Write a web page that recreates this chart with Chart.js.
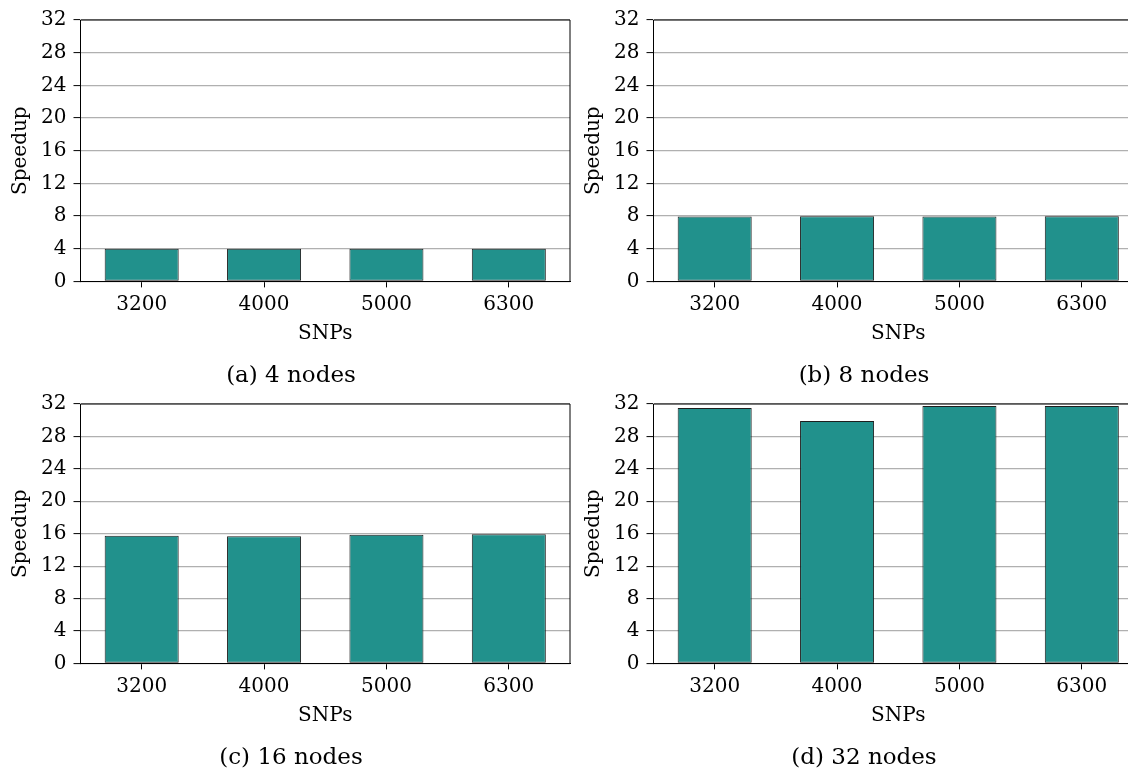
<!DOCTYPE html>
<html>
<head>
<meta charset="utf-8">
<title>Speedup vs SNPs</title>
<script src="https://cdn.jsdelivr.net/npm/chart.js@4.4.1/dist/chart.umd.min.js"></script>
<style>
    html, body { margin: 0; padding: 0; background: #fff; overflow: hidden; }
    #figure { position: relative; width: 1128px; height: 769px; overflow: hidden; background: #fff; }
    #figure canvas { position: absolute; }
</style>
</head>
<body>
<div id="figure">
    <canvas id="panel-a"></canvas>
    <canvas id="panel-b"></canvas>
    <canvas id="panel-c"></canvas>
    <canvas id="panel-d"></canvas>
</div>
<script>
// Veriler
const snpLabels = ['3200', '4000', '5000', '6300'];
const speedup4 = [4.0, 4.0, 4.0, 4.0];
const speedup8 = [7.96, 7.97, 7.96, 7.98];
const speedup16 = [15.75, 15.7, 15.88, 15.92];
const speedup32 = [31.5, 29.9, 31.75, 31.75];
const yTicks = [0, 4, 8, 12, 16, 20, 24, 28, 32];
const captions = ['(a) 4 nodes', '(b) 8 nodes', '(c) 16 nodes', '(d) 32 nodes'];

const FONT = "'DejaVu Serif', serif";
const BAR_COLOR = '#21918c';

// Grafik alanının üst ve sağ kenarına siyah çizgi çizer (matplotlib spines)
const framePlugin = {
    id: 'frame',
    afterDraw(chart, args, opts) {
        const { ctx, chartArea } = chart;
        ctx.save();
        ctx.strokeStyle = '#000';
        ctx.lineWidth = 1;
        ctx.beginPath();
        ctx.moveTo(chartArea.left, chartArea.top);
        ctx.lineTo(chartArea.right, chartArea.top);
        if (opts.right) {
            ctx.lineTo(chartArea.right, chartArea.bottom);
        }
        ctx.stroke();
        ctx.restore();
    }
};

/**
 * Tek bir alt grafik oluşturur
 */
function createPanel(id, left, top, height, values, caption, rightSpine) {
    const canvas = document.getElementById(id);
    canvas.width = 582;
    canvas.height = height;
    canvas.style.left = left + 'px';
    canvas.style.top = top + 'px';

    return new Chart(canvas, {
        type: 'bar',
        data: {
            labels: snpLabels,
            datasets: [{
                data: values,
                backgroundColor: BAR_COLOR,
                borderColor: '#1e1e1e',
                borderWidth: 1,
                borderSkipped: false,
                barPercentage: 0.605,
                categoryPercentage: 1.0
            }]
        },
        options: {
            responsive: false,
            animation: false,
            layout: { padding: { top: 20, left: 12, right: 12, bottom: 0 } },
            plugins: {
                legend: { display: false },
                tooltip: { enabled: false },
                frame: { right: rightSpine },
                title: {
                    display: true,
                    position: 'bottom',
                    text: caption,
                    color: '#000',
                    font: { family: FONT, size: 23, weight: 'normal' },
                    padding: 0
                }
            },
            scales: {
                x: {
                    offset: true,
                    grid: {
                        offset: false,
                        drawOnChartArea: false,
                        drawTicks: true,
                        tickLength: 6,
                        tickColor: '#000'
                    },
                    border: { display: true, color: '#000', width: 1 },
                    ticks: {
                        color: '#000',
                        padding: 5,
                        maxRotation: 0,
                        font: { family: FONT, size: 20 }
                    },
                    title: {
                        display: true,
                        text: 'SNPs',
                        color: '#000',
                        font: { family: FONT, size: 20 },
                        padding: { top: 0, bottom: 17 }
                    },
                    afterFit(scale) { scale.height = 81; }
                },
                y: {
                    min: 0,
                    max: 32,
                    afterBuildTicks(scale) {
                        scale.ticks = yTicks.map(v => ({ value: v }));
                    },
                    grid: {
                        color: '#b0b0b0',
                        lineWidth: 1.2,
                        drawTicks: true,
                        tickLength: 7,
                        tickColor: '#000',
                        tickWidth: 1
                    },
                    border: { display: true, color: '#000', width: 1 },
                    ticks: {
                        color: '#000',
                        padding: 7,
                        font: { family: FONT, size: 20 }
                    },
                    title: {
                        display: true,
                        text: 'Speedup',
                        color: '#000',
                        font: { family: FONT, size: 20 },
                        padding: { top: -3, bottom: 0 }
                    },
                    afterFit(scale) { scale.width = 68.5; }
                }
            }
        },
        plugins: [framePlugin]
    });
}

document.addEventListener('DOMContentLoaded', () => {
    if (typeof Chart === 'undefined') {
        console.error('Chart.js yüklenemedi!');
        return;
    }
    // Sağdaki paneller görüntünün kenarında kesiliyor, sağ çerçeve görünmüyor
    createPanel('panel-a', 0, 0, 390, speedup4, captions[0], true);
    createPanel('panel-b', 573, 0, 390, speedup8, captions[1], false);
    createPanel('panel-c', 0, 384, 388, speedup16, captions[2], true);
    createPanel('panel-d', 573, 384, 388, speedup32, captions[3], false);
});
</script>
</body>
</html>
